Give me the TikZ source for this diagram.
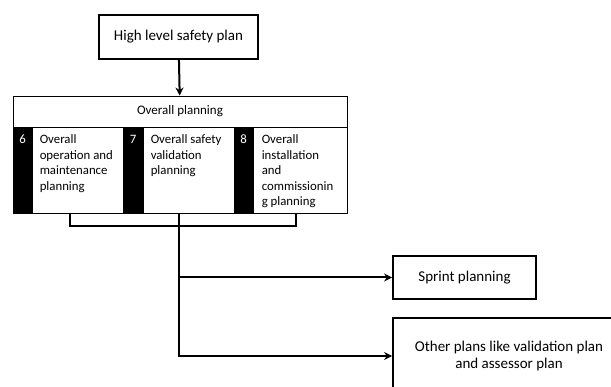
\documentclass[tikz,border=0pt]{standalone}
\usepackage{fontspec}
\setmainfont{Carlito}
\usetikzlibrary{arrows.meta, positioning, calc}

\begin{document}
\begin{tikzpicture}[x=1pt, y=1pt,
  box/.style={draw, line width=1.8pt, align=center, inner sep=0pt,
    font=\fontsize{15}{17.5}\selectfont},
  part/.style={draw, line width=0.9pt, inner sep=0pt},
  strip/.style={part, fill=black},
  num/.style={text=white, font=\fontsize{12.8}{15.5}\selectfont, inner sep=0pt},
  coltext/.style={anchor=north west, align=left, inner sep=0pt,
    font=\fontsize{12.8}{15.5}\selectfont},
  link/.style={line width=2pt},
  arr/.style={link, -{Stealth[length=8pt, width=8pt]}}]
  \useasboundingbox (0,0) rectangle (611,387);
  \clip (0,0) rectangle (611,387);

  \node[box, minimum width=159, minimum height=44] (hlsp) at (178.5,350) {High level safety plan};

  % overall planning block
  \node[part, minimum width=334, minimum height=31, font=\fontsize{13}{15}\selectfont] (overall) at (180,275.5) {Overall planning};
  \node[strip, minimum width=19, minimum height=86] (s6) at (22.5,217) {};
  \node[part, minimum width=91, minimum height=86] (c6) at (77.5,217) {};
  \node[strip, minimum width=20, minimum height=86] (s7) at (133,217) {};
  \node[part, minimum width=91, minimum height=86] (c7) at (188.5,217) {};
  \node[strip, minimum width=19, minimum height=86] (s8) at (243.5,217) {};
  \node[part, minimum width=94, minimum height=86] (c8) at (300,217) {};
  \node[num] (n6) at ([yshift=-13]s6.north) {6};
  \node[num] (n7) at ([yshift=-13]s7.north) {7};
  \node[num] (n8) at ([yshift=-13]s8.north) {8};
  \node[coltext] (t6) at ([xshift=8,yshift=-8]c6.north west) {Overall\\operation and\\maintenance\\planning};
  \node[coltext] (t7) at ([xshift=8,yshift=-8]c7.north west) {Overall safety\\validation\\planning};
  \node[coltext] (t8) at ([xshift=9,yshift=-8]c8.north west) {Overall\\installation\\and\\commissionin\\g planning};

  \node[box, minimum width=143, minimum height=43] (sprint) at (464.5,109.5) {Sprint planning};
  \node[box, minimum width=232, minimum height=76] (other) at (509,31) {Other plans like validation plan\\and assessor plan};

  \draw[arr] (hlsp) -- (overall);
  \coordinate (b6) at (70,174);
  \coordinate (b8) at (296,174);
  \draw[link] (b6) -- ++(0,-13) -| (b8);
  \coordinate (trunk) at (hlsp.south |- c7.south);
  \draw[arr] (trunk |- sprint.west) -- (sprint.west);
  \draw[arr] (trunk) -- (trunk |- other.west) -- (other.west);
\end{tikzpicture}
\end{document}
